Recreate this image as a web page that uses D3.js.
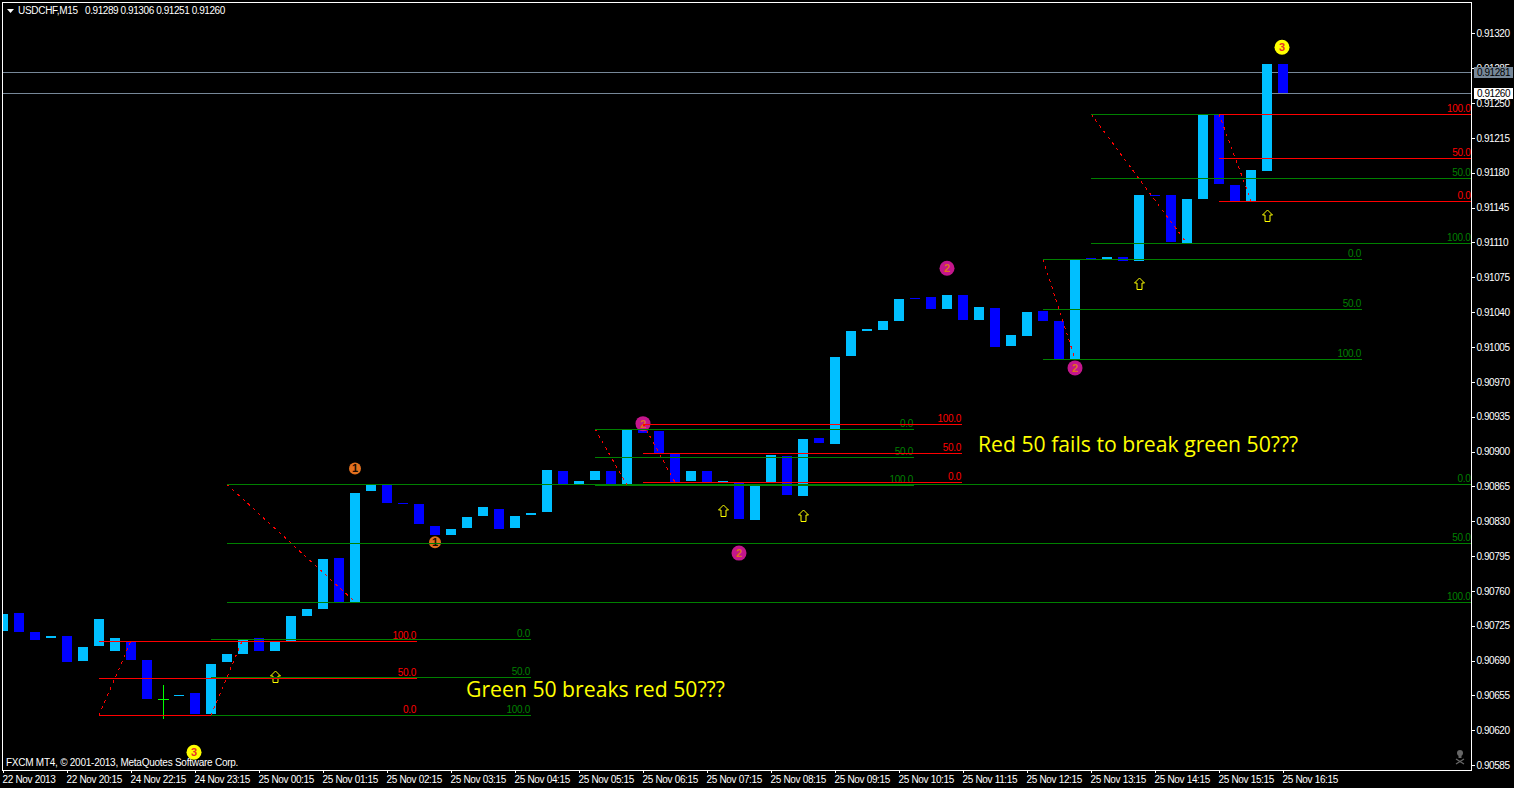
<!DOCTYPE html>
<html><head><meta charset="utf-8">
<script src="https://cdn.jsdelivr.net/npm/d3@7"></script>
<style>
html,body{margin:0;padding:0;background:#000;overflow:hidden}
svg{display:block}
.ax{font-family:"Liberation Sans",Arial,sans-serif;font-size:10px;fill:#fff}
</style></head><body>
<svg id="c" width="1514" height="788"></svg>
<script>
// Candle values, in points above 0.80000 (e.g. 11289 = 0.91289)
const opens=[10720,10738,10719,10713,10715,10690,10705,10700,10710,10691,10651,10654,10658,10636,10689,10697,10713,10700,10710,10735,10742,10793,10749,10860,10866,10848,10847,10825,10816,10823,10835,10842,10823,10836,10839,10880,10867,10871,10880,10867,10922,10921,10898,10870,10880,10869,10868,10831,10868,10896,10855,10914,10908,10996,11021,11022,11031,11054,11055,11043,11057,11032,11044,11006,11016,11041,11031,10993,11094,11093,11095,11091,11158,11158,11109,11154,11238,11168,11152,11182,11289];
const closes=[10737,10719,10711,10715,10689,10704,10732,10713,10691,10651,10651,10655,10636,10687,10697,10711,10700,10709,10735,10742,10792,10749,10858,10866,10848,10847,10827,10816,10822,10834,10844,10822,10835,10838,10881,10867,10870,10880,10867,10922,10919,10898,10868,10880,10868,10870,10832,10865,10897,10856,10913,10909,10995,11021,11023,11031,11053,11053,11043,11057,11032,11045,11005,11017,11040,11031,10993,11093,11093,11095,11091,11158,11157,11110,11154,11239,11169,11152,11183,11289,11260];
const dojiIndex=[10];
const dojiHigh=[10666];
const dojiLow=[10631];
const priceTicks=[11320,11285,11250,11215,11180,11145,11110,11075,11040,11005,10970,10935,10900,10865,10830,10795,10760,10725,10690,10655,10620,10585];
const timeTicks=["22 Nov 2013","22 Nov 20:15","24 Nov 22:15","24 Nov 23:15","25 Nov 00:15","25 Nov 01:15","25 Nov 02:15","25 Nov 03:15","25 Nov 04:15","25 Nov 05:15","25 Nov 06:15","25 Nov 07:15","25 Nov 08:15","25 Nov 09:15","25 Nov 10:15","25 Nov 11:15","25 Nov 12:15","25 Nov 13:15","25 Nov 14:15","25 Nov 15:15","25 Nov 16:15"];
const priceLines=[11281,11260];
// Fibonacci sets: start bar, end bar, colour family, levels, labels, trend bars
const fibStart=[6,13,14,37,40,65,68,76];
const fibEnd=[25.94,33.06,92,57,60,85,92,92];
const fibColor=["r","g","g","g","r","g","g","r"];
const fibHigh=[10710,10712,10867,10923,10928,11093,11239,11239];
const fibMid=[10673,10674,10808,10895,10899,11043,11175,11195];
const fibLow=[10635,10635,10749,10866,10869,10993,11109,11152];
const fibHighLabel=["100.0","0.0","0.0","0.0","100.0","0.0","","100.0"];
const fibLowLabel=["0.0","100.0","100.0","100.0","0.0","100.0","100.0","0.0"];
const trendFrom=[6,13,14,37,40,65,68,76];
const trendTo=[8,15,22,39,42,67,74,78];
const trendFromPrice=[10635,10635,10867,10923,10928,11093,11239,11239];
const trendToPrice=[10710,10712,10749,10866,10869,10993,11109,11152];
// Numbered markers
const markerBar=[22,27,40,46,59,67,12,80];
const markerPrice=[10883,10809,10928,10798,11084,10984,10598,11306];
const markerDigit=["1","1","2","2","2","2","3","3"];
// Arrow markers
const arrowBar=[17,45,50,71,79];
const arrowPrice=[10680,10846,10841,11074,11143];
const notes=["Green 50 breaks red 50???","Red 50 fails to break green 50???"];
const noteBar=[28.94,60.94];
const notePrice=[10653,10900];

const svg=d3.select("#c");
const right=1471.5,bottom=770;
const x=d3.scaleLinear().domain([0,80]).range([3,1283]);
const y=d3.scaleLinear().domain([11320,10585]).range([33.3,765.2]);
const fmt=d=>(d/100000+0.8).toFixed(5);
svg.append("defs").append("clipPath").attr("id","plot").append("rect").attr("x",3).attr("y",3).attr("width",right-3).attr("height",bottom-3);
const plot=svg.append("g").attr("clip-path","url(#plot)");
const CY="#00bfff",BL="#0000ff",RED="#ff0000",GRN="#008000",DOJI="#00ff00";

// Price-level lines under the bars
plot.selectAll("line.pl").data(priceLines).join("line").attr("x1",3).attr("x2",right)
 .attr("y1",d=>Math.round(y(d))+.5).attr("y2",d=>Math.round(y(d))+.5).attr("stroke","#778899").attr("shape-rendering","crispEdges");

// Candle bodies
plot.selectAll("rect.b").data(opens.map((o,i)=>({o,c:closes[i],i}))).join("rect")
 .attr("x",d=>x(d.i)-5).attr("width",10)
 .attr("y",d=>Math.round(y(Math.max(d.o,d.c))))
 .attr("height",d=>Math.max(1,Math.round(y(Math.min(d.o,d.c)))-Math.round(y(Math.max(d.o,d.c)))))
 .attr("fill",d=>d.c>d.o?CY:BL).attr("shape-rendering","crispEdges")
 .attr("display",d=>dojiIndex.includes(d.i)?"none":null);
dojiIndex.forEach((b,k)=>{
 plot.append("rect").attr("x",x(b)).attr("width",1).attr("y",Math.round(y(dojiHigh[k]))).attr("height",Math.round(y(dojiLow[k]))-Math.round(y(dojiHigh[k]))).attr("fill",DOJI).attr("shape-rendering","crispEdges");
 plot.append("rect").attr("x",x(b)-5).attr("width",11).attr("y",Math.round(y(opens[b]))).attr("height",1).attr("fill",DOJI).attr("shape-rendering","crispEdges");
});

// Markers
const markerFill={"1":"#e2701e","2":"#c4168c","3":"#ffff00"},markerText={"1":"#1a0a00","2":"#e2701e","3":"#e8302a"};
markerBar.forEach((b,k)=>{
 const d=markerDigit[k],g=plot.append("g").attr("transform",`translate(${x(b)+(d==="3"?-1:0)},${y(markerPrice[k])})`);
 g.append("circle").attr("r",d==="1"?6:7.5).attr("fill",markerFill[d]);
 g.append("text").attr("text-anchor","middle").attr("y",4).attr("font-family","Liberation Sans").attr("font-weight","bold").attr("font-size",11).attr("fill",markerText[d]).text(d);
});

// Arrows
arrowBar.forEach((b,k)=>{
 const tx=x(b)+.5,ty=Math.round(y(arrowPrice[k]));
 plot.append("path").attr("d",`M${tx},${ty}L${tx+5},${ty+5}L${tx+2.5},${ty+5}L${tx+2.5},${ty+11.5}L${tx-2.5},${ty+11.5}L${tx-2.5},${ty+5}L${tx-5},${ty+5}Z`)
  .attr("fill","#000").attr("stroke","#ffff00").attr("stroke-width",1);
});

// Fibonacci sets
fibStart.forEach((s,k)=>{
 const col=fibColor[k]==="r"?RED:GRN, x0=x(s), x1=Math.min(x(fibEnd[k])-1,right);
 plot.append("line").attr("x1",x(trendFrom[k])).attr("y1",y(trendFromPrice[k])).attr("x2",x(trendTo[k])).attr("y2",y(trendToPrice[k]))
  .attr("stroke",RED).attr("stroke-dasharray","3,4").attr("stroke-width",1).attr("shape-rendering","crispEdges");
 [[fibHigh[k],fibHighLabel[k]],[fibMid[k],"50.0"],[fibLow[k],fibLowLabel[k]]].forEach(([p,lab])=>{
  const py=Math.round(y(p));
  plot.append("rect").attr("x",x0).attr("width",x1-x0).attr("y",py).attr("height",1).attr("fill",col).attr("shape-rendering","crispEdges");
  if(lab) plot.append("text").attr("x",x1-1).attr("y",py-2).attr("text-anchor","end").attr("font-family","Liberation Sans").attr("font-size",10).style("letter-spacing","-0.3px").attr("fill",col).text(lab);
 });
});

// Annotations
notes.forEach((t,k)=>{
 plot.append("text").attr("x",x(noteBar[k])).attr("y",y(notePrice[k])).attr("font-family","Open Sans").attr("font-size",21.2).attr("fill","#ffff00").text(t);
});

// Frame
svg.append("path").attr("d",`M2.5,${bottom+.5}V2.5H${right}V${bottom+.5}H2.5`).attr("fill","none").attr("stroke","#fff").attr("shape-rendering","crispEdges");

// Axes
const yAxis=d3.axisRight(y).tickValues(priceTicks).tickSize(3).tickPadding(2).tickSizeOuter(0).tickFormat(fmt);
const gy=svg.append("g").attr("transform",`translate(${right},0)`).call(yAxis);
gy.select(".domain").remove();
const xAxis=d3.axisBottom(x).tickValues(d3.range(0,81,4)).tickSize(3).tickPadding(3).tickSizeOuter(0).tickFormat(d=>timeTicks[d/4]);
const gx=svg.append("g").attr("transform",`translate(0,${bottom})`).call(xAxis);
gx.select(".domain").remove();
gx.selectAll("text").attr("text-anchor","start").attr("x",-1).style("letter-spacing","-0.33px");
gy.selectAll("text").style("letter-spacing","-0.45px");
[gx,gy].forEach(g=>{g.attr("font-family",null).attr("font-size",null);
 g.selectAll("line").attr("stroke","#fff").attr("shape-rendering","crispEdges");
 g.selectAll("text").attr("class","ax").attr("fill","#fff");});

// Current price boxes
[[priceLines[0],"#778899"],[priceLines[1],"#fff"]].forEach(([p,bg])=>{
 const py=Math.round(y(p));
 svg.append("rect").attr("x",1474).attr("width",39).attr("y",py-5).attr("height",11).attr("fill",bg);
 svg.append("text").attr("x",1477).attr("y",py+3.5).attr("class","ax").style("fill","#000").style("letter-spacing","-0.45px").text(fmt(p));
});

// Header and footer
svg.append("path").attr("d","M7,9H14L10.5,13Z").attr("fill","#fff");
svg.append("text").attr("x",18).attr("y",14).attr("class","ax").style("letter-spacing","-0.3px").text("USDCHF,M15");
svg.append("text").attr("x",85).attr("y",14).attr("class","ax").style("letter-spacing","-0.42px").text("0.91289 0.91306 0.91251 0.91260");
svg.append("text").attr("x",6).attr("y",766).attr("class","ax").style("letter-spacing","-0.25px").text("FXCM MT4, © 2001-2013, MetaQuotes Software Corp.");

// Skull mark
const sk=svg.append("g").attr("transform","translate(1460,757)").attr("fill","#666").attr("stroke","none");
sk.append("circle").attr("cx",0).attr("cy",-4).attr("r",3);
sk.append("rect").attr("x",-1.5).attr("y",-2).attr("width",3).attr("height",3);
sk.append("path").attr("d","M-4,2L4,7M4,2L-4,7").attr("stroke","#666").attr("stroke-width",1.3);
</script>
</body></html>
